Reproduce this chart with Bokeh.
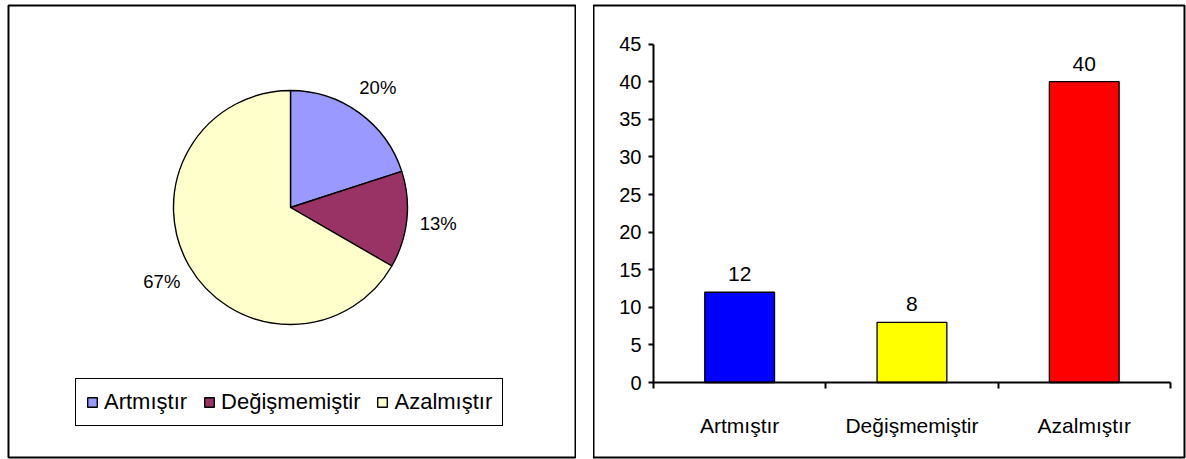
import math
from bokeh.plotting import figure
from bokeh.layouts import row
from bokeh.models import (ColumnDataSource, Range1d, LinearAxis, FixedTicker, Legend, LegendItem)
from bokeh.core.properties import value
from bokeh.embed import file_html
from bokeh.resources import INLINE

categories = ["Artmıştır", "Değişmemiştir", "Azalmıştır"]
counts = [12, 8, 40]
pie_labels = ["20%", "13%", "67%"]
pie_colors = ["#9999FF", "#993366", "#FFFFCC"]
bar_colors = ["#0000FF", "#FFFF00", "#FF0000"]
y_ticks = [0, 5, 10, 15, 20, 25, 30, 35, 40, 45]

FONT = "Liberation Sans"

# ---------------- Pie panel ----------------
W1, H1 = 576, 459
MB1 = dict(min_border_left=8, min_border_right=1, min_border_top=5, min_border_bottom=2)
fw1 = W1 - 8 - 1
fh1 = H1 - 5 - 2
R_PX = 117.0
cx_px, cy_px = 282.0, 202.0  # pie centre within frame (px)
p1 = figure(width=W1, height=H1, output_backend="svg", toolbar_location=None,
            x_axis_type=None, y_axis_type=None,
            x_range=Range1d(-cx_px / R_PX, (fw1 - cx_px) / R_PX),
            y_range=Range1d(-(fh1 - cy_px) / R_PX, cy_px / R_PX), **MB1)
p1.outline_line_color = "black"
p1.outline_line_width = 2
p1.background_fill_color = "white"
p1.border_fill_color = "white"

total = sum(counts)
starts, ends, lx, ly = [], [], [], []
cum = 0
for c in counts:
    a0 = math.pi / 2 - 2 * math.pi * cum / total
    cum += c
    a1 = math.pi / 2 - 2 * math.pi * cum / total
    starts.append(a0)
    ends.append(a1)
    mid = (a0 + a1) / 2
    lx.append(1.27 * math.cos(mid))
    ly.append(1.27 * math.sin(mid))

src = ColumnDataSource(dict(cat=categories, start=starts, end=ends, color=pie_colors,
                            lx=lx, ly=ly, lab=pie_labels))
w = p1.wedge(x=0, y=0, radius=1, start_angle="start", end_angle="end", direction="clock",
             fill_color="color", line_color="black", line_width=1.4, source=src)
p1.text(x="lx", y="ly", text="lab", source=src, text_align="center", text_baseline="middle",
        text_font=value(FONT), text_font_size="18.5px", text_color="black")

legend = Legend(items=[LegendItem(label=categories[i], renderers=[w], index=i) for i in range(3)],
                orientation="horizontal", location=(67, 31),
                label_text_font=FONT, label_text_font_size="22px", label_text_color="black",
                glyph_width=12, glyph_height=12, label_standoff=6, spacing=16,
                padding=10, margin=0,
                border_line_color="black", border_line_width=1.5, border_line_alpha=1,
                background_fill_color="white", background_fill_alpha=1)
p1.add_layout(legend, "center")

# ---------------- Bar panel ----------------
W2, H2 = 593, 459
MB2 = dict(min_border_left=0, min_border_right=2, min_border_top=5, min_border_bottom=2)
left_page = 576 + 17
frame_left_page, frame_top_page = left_page, 5
frame_right_page, frame_bottom_page = left_page + W2 - 2, H2 - 2
x0_page, unit_x = 653.0, 172.3
y0_page, unit_y = 382.0, 7.52
p2 = figure(width=W2, height=H2, output_backend="svg", toolbar_location=None,
            x_axis_type=None, y_axis_type=None,
            x_range=Range1d((frame_left_page - x0_page) / unit_x, (frame_right_page - x0_page) / unit_x),
            y_range=Range1d(-(frame_bottom_page - y0_page) / unit_y, (y0_page - frame_top_page) / unit_y),
            **MB2)
p2.outline_line_color = "black"
p2.outline_line_width = 2

xs = [i + 0.5 for i in range(len(categories))]
bsrc = ColumnDataSource(dict(x=xs, top=counts, color=bar_colors, lab=[str(c) for c in counts]))
p2.vbar(x="x", top="top", bottom=0, width=0.405, fill_color="color", line_color="black",
        line_width=1.3, source=bsrc)
p2.text(x="x", y="top", text="lab", source=bsrc, text_align="center", text_baseline="alphabetic",
        y_offset=-18, text_font=value(FONT), text_font_size="21px", text_color="black")

yaxis = LinearAxis(fixed_location=0, ticker=FixedTicker(ticks=y_ticks), bounds=(0, 45),
                   axis_line_width=2, major_tick_line_width=2, major_tick_out=5, major_tick_in=0,
                   minor_tick_line_color=None, major_label_standoff=7,
                   major_label_text_font=FONT, major_label_text_font_size="20px",
                   major_label_text_color="black")
p2.add_layout(yaxis, "left")

xaxis = LinearAxis(fixed_location=0, ticker=FixedTicker(ticks=[0, 1, 2, 3]), bounds=(0, 3),
                   axis_line_width=2, major_tick_line_width=2, major_tick_out=6, major_tick_in=0,
                   minor_tick_line_color=None,
                   major_label_overrides={0: "", 1: "", 2: "", 3: ""})
p2.add_layout(xaxis, "below")

xlab = LinearAxis(fixed_location=0, ticker=FixedTicker(ticks=xs),
                  axis_line_color=None, major_tick_line_color=None, minor_tick_line_color=None,
                  major_label_standoff=25,
                  major_label_overrides={x: c for x, c in zip(xs, categories)},
                  major_label_text_font=FONT, major_label_text_font_size="21px",
                  major_label_text_color="black")
p2.add_layout(xlab, "below")

layout = row(p1, p2, spacing=17)
open("out.html", "w").write(file_html(layout, INLINE))
